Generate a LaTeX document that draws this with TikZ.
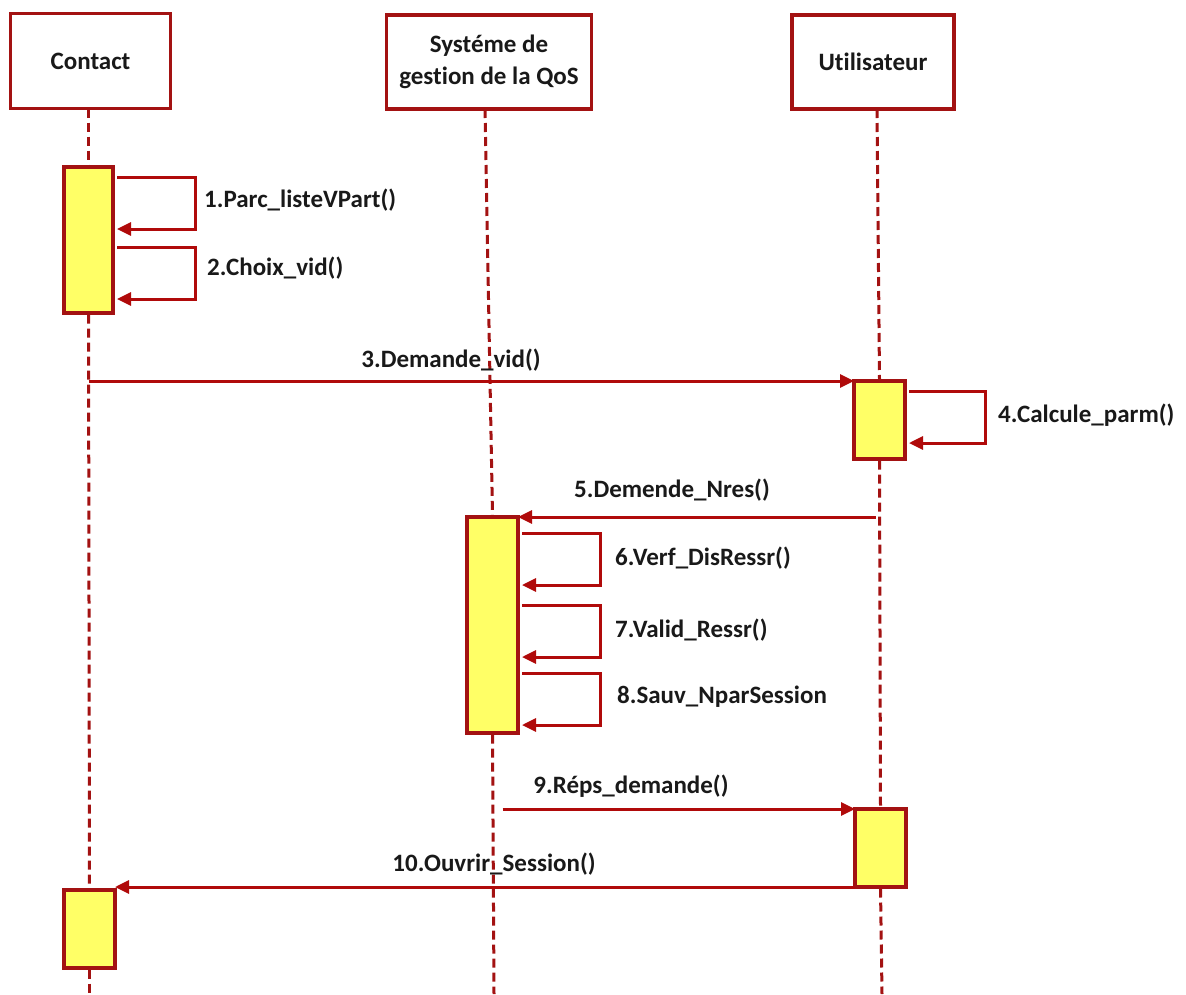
\documentclass[tikz,border=0pt]{standalone}
\usepackage{fontspec}
\setmainfont{Carlito}[Ligatures=NoCommon]
\usetikzlibrary{arrows.meta,calc}
\definecolor{umlred}{HTML}{A31212}
\definecolor{msgred}{HTML}{B00A0A}
\definecolor{actyellow}{HTML}{FFFF66}
\begin{document}
\begin{tikzpicture}[x=1pt,y=-1pt,
  every node/.style={font=\fontsize{25}{32}\selectfont\bfseries, text=black!90},
  lifebox/.style={draw=umlred, line width=3.5pt, fill=white, inner sep=0pt, outer sep=0pt, align=center},
  actbox/.style={draw=umlred, line width=3.5pt, fill=actyellow, inner sep=0pt, outer sep=0pt},
  lifeline/.style={draw=umlred, line width=3pt, dash pattern=on 9pt off 5pt},
  msg/.style={draw=msgred, line width=3pt, -{Triangle[length=14pt,width=13pt]}},
  lbl/.style={inner sep=0pt}]
\useasboundingbox (0,0) rectangle (1186,994);
% heads
\node[lifebox, minimum width=160pt, minimum height=95pt] (contact) at (90.5,61) {Contact};
\node[lifebox, minimum width=205pt, minimum height=94pt] (qos) at (489,62) {Systéme de\\gestion de la QoS};
\node[lifebox, minimum width=162pt, minimum height=94pt] (user) at (873,62) {Utilisateur};
% activations
\node[actbox, minimum width=49pt, minimum height=146pt] (actC1) at (88.5,240) {};
\node[actbox, minimum width=51pt, minimum height=78pt] (actU1) at (879.5,420) {};
\node[actbox, minimum width=51pt, minimum height=216pt] (actS) at (492.5,625) {};
\node[actbox, minimum width=51pt, minimum height=78pt] (actU2) at (880.5,848) {};
\node[actbox, minimum width=51pt, minimum height=78pt] (actC2) at (89.5,929) {};
\coordinate (endC) at (89.5,994);
\coordinate (endS) at (494,994);
\coordinate (endU) at (882,994);
% lifelines
\path[lifeline] (contact.south -| actC1.north) -- ([yshift=1.5pt]actC1.north);
\path[lifeline] ([yshift=-1.5pt]actC1.south) -- ([yshift=1.5pt]actC2.north);
\path[lifeline] ([yshift=-1.5pt]actC2.south) -- (endC);
\path[lifeline] ([xshift=-4pt]qos.south) -- ([yshift=1.5pt]actS.north);
\path[lifeline] ([yshift=-1.5pt]actS.south) -- (endS);
\path[lifeline] ([xshift=4pt]user.south) -- ([yshift=1.5pt]actU1.north);
\path[lifeline] ([yshift=-1.5pt]actU1.south) -- ([yshift=1.5pt]actU2.north);
\path[lifeline] ([yshift=-1.5pt]actU2.south) -- (endU);
% self messages on Contact
\draw[msg] ([shift={(4,10)}]actC1.north east) -- ++(78,0) -- ++(0,52) -- ([shift={(4,62)}]actC1.north east);
\node[lbl, anchor=west] (l1) at (204,200) {1.Parc\_listeVPart()};
\draw[msg] ([shift={(4,80)}]actC1.north east) -- ++(78,0) -- ++(0,52) -- ([shift={(4,132)}]actC1.north east);
\node[lbl, anchor=west] (l2) at (207,268) {2.Choix\_vid()};
% message 3
\draw[msg] (actC1.south |- actU1.north west) -- (actU1.north west);
\node[lbl] (l3) at (451,360) {3.Demande\_vid()};
% self message 4
\draw[msg] ([shift={(4,10)}]actU1.north east) -- ++(76,0) -- ++(0,52) -- ([shift={(4,62)}]actU1.north east);
\node[lbl, anchor=west] (l4) at (998,415) {4.Calcule\_parm()};
% message 5
\draw[msg] ([xshift=-4pt]actU1.south |- actS.north east) -- (actS.north east);
\node[lbl] (l5) at (672,490) {5.Demende\_Nres()};
% self messages 6,7,8
\draw[msg] ([shift={(4,16)}]actS.north east) -- ++(78,0) -- ++(0,52) -- ([shift={(4,68)}]actS.north east);
\node[lbl, anchor=west] (l6) at (615,558) {6.Verf\_DisRessr()};
\draw[msg] ([shift={(4,88)}]actS.north east) -- ++(78,0) -- ++(0,52) -- ([shift={(4,140)}]actS.north east);
\node[lbl, anchor=west] (l7) at (615,630) {7.Valid\_Ressr()};
\draw[msg] ([shift={(4,156)}]actS.north east) -- ++(78,0) -- ++(0,52) -- ([shift={(4,208)}]actS.north east);
\node[lbl, anchor=west] (l8) at (617,697) {8.Sauv\_NparSession};
% message 9
\draw[msg] ([xshift=10pt]actS.south |- actU2.north west) -- (actU2.north west);
\node[lbl] (l9) at (631,786) {9.Réps\_demande()};
% message 10
\draw[msg] (actU2.south west) -- (actC2.north east |- actU2.south west);
\node[lbl] (l10) at (494,864) {10.Ouvrir\_Session()};
\end{tikzpicture}
\end{document}
